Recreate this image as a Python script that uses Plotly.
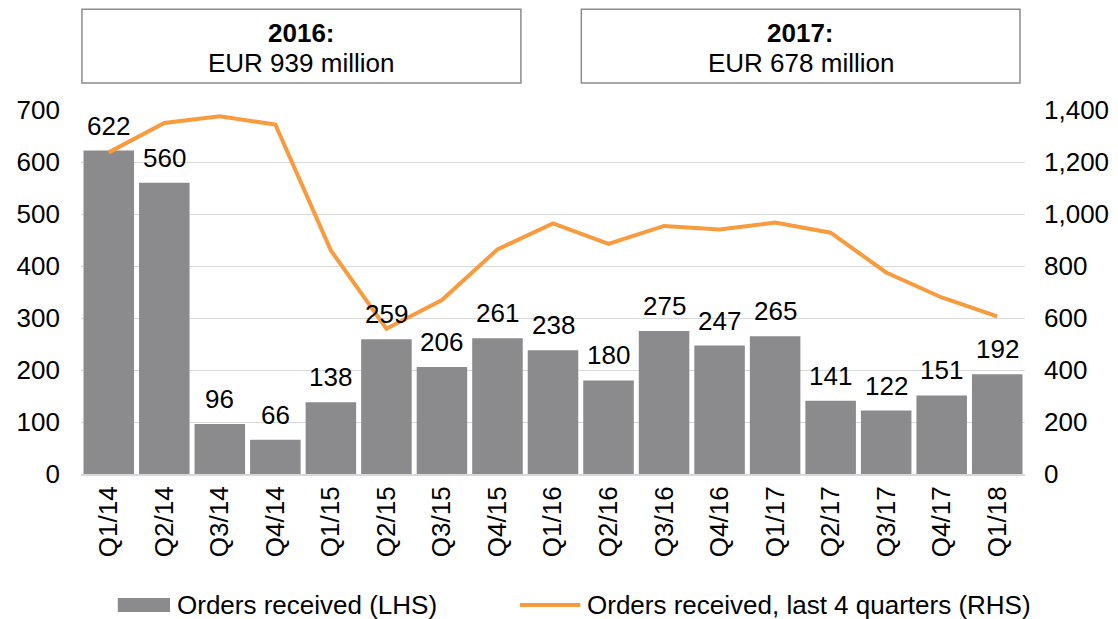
import plotly.graph_objects as go

quarters = ['Q1/14', 'Q2/14', 'Q3/14', 'Q4/14', 'Q1/15', 'Q2/15', 'Q3/15', 'Q4/15', 'Q1/16',
            'Q2/16', 'Q3/16', 'Q4/16', 'Q1/17', 'Q2/17', 'Q3/17', 'Q4/17', 'Q1/18']
orders = [622, 560, 96, 66, 138, 259, 206, 261, 238, 180, 275, 247, 265, 141, 122, 151, 192]
orders_4q = [1237, 1350, 1376, 1344, 860, 559, 669, 864, 964, 885, 954, 940, 967, 928, 775, 679, 606]

box_titles = ['2016:', '2017:']
box_values = ['EUR 939 million', 'EUR 678 million']
legend_names = ['Orders received (LHS)', 'Orders received, last 4 quarters (RHS)']

FONT = 'Liberation Sans, Arial, sans-serif'
FS = 26
GREY = '#8b8b8d'
ORANGE = '#f79b3e'

fig = go.Figure()
fig.add_trace(go.Bar(
    x=quarters, y=orders, name=legend_names[0], showlegend=False,
    marker=dict(color=GREY, line=dict(width=0)),
))
fig.add_trace(go.Scatter(
    x=quarters, y=orders_4q, name=legend_names[1], showlegend=False,
    mode='lines', yaxis='y2',
    line=dict(color=ORANGE, width=4),
))

# value labels above bars
for q, v in zip(quarters, orders):
    fig.add_annotation(x=q, y=v, xref='x', yref='y', text=str(v), showarrow=False,
                       xanchor='center', yanchor='bottom', yshift=8,
                       font=dict(size=FS, family=FONT))

# boxes on top
box_pos = [(0.001, 0.466), (0.530, 0.9947)]
for (x0, x1), t, v in zip(box_pos, box_titles, box_values):
    fig.add_shape(type='rect', xref='paper', yref='paper', x0=x0, x1=x1, y0=1.074, y1=1.277,
                  line=dict(color='#8c8c8c', width=1.5), fillcolor='white')
    fig.add_annotation(xref='paper', yref='paper', x=(x0 + x1) / 2, y=1.2115,
                       xanchor='center', yanchor='middle',
                       text=f'<b>{t}</b>', showarrow=False,
                       font=dict(size=FS, color='#000000', family=FONT))
    fig.add_annotation(xref='paper', yref='paper', x=(x0 + x1) / 2, y=1.129,
                       xanchor='center', yanchor='middle',
                       text=v, showarrow=False,
                       font=dict(size=FS, color='#000000', family=FONT))

# legend drawn by hand (wide bar swatch like the original)
fig.add_shape(type='rect', xref='paper', yref='paper', x0=0.039, x1=0.0943, y0=-0.379, y1=-0.341,
              fillcolor=GREY, line=dict(width=0))
fig.add_annotation(xref='paper', yref='paper', x=0.0996, y=-0.36, xanchor='left', yanchor='middle',
                   text=legend_names[0], showarrow=False, font=dict(size=FS, family=FONT))
fig.add_shape(type='line', xref='paper', yref='paper', x0=0.465, x1=0.529, y0=-0.36, y1=-0.36,
              line=dict(color=ORANGE, width=4))
fig.add_annotation(xref='paper', yref='paper', x=0.534, y=-0.36, xanchor='left', yanchor='middle',
                   text=legend_names[1], showarrow=False, font=dict(size=FS, family=FONT))

fig.update_layout(
    width=1110, height=611,
    margin=dict(l=73, r=93, t=102, b=145),
    plot_bgcolor='white', paper_bgcolor='white',
    font=dict(family=FONT, size=FS, color='#000000'),
    bargap=0.09,
    showlegend=False,
    xaxis=dict(tickangle=-90, showgrid=False, showline=True, linecolor='#d9d9d9', linewidth=2,
               ticks='', tickfont=dict(size=FS), automargin=False),
    yaxis=dict(range=[0, 700], dtick=100, showgrid=True, gridcolor='#d9d9d9', gridwidth=1,
               zeroline=False, ticks='', tickfont=dict(size=FS), ticklabelstandoff=20,
               automargin=False),
    yaxis2=dict(range=[0, 1400], dtick=200, overlaying='y', side='right', showgrid=False,
                zeroline=False, tickformat=',', ticks='', tickfont=dict(size=FS),
                ticklabelstandoff=18, automargin=False),
)

fig.write_html('out.html')
